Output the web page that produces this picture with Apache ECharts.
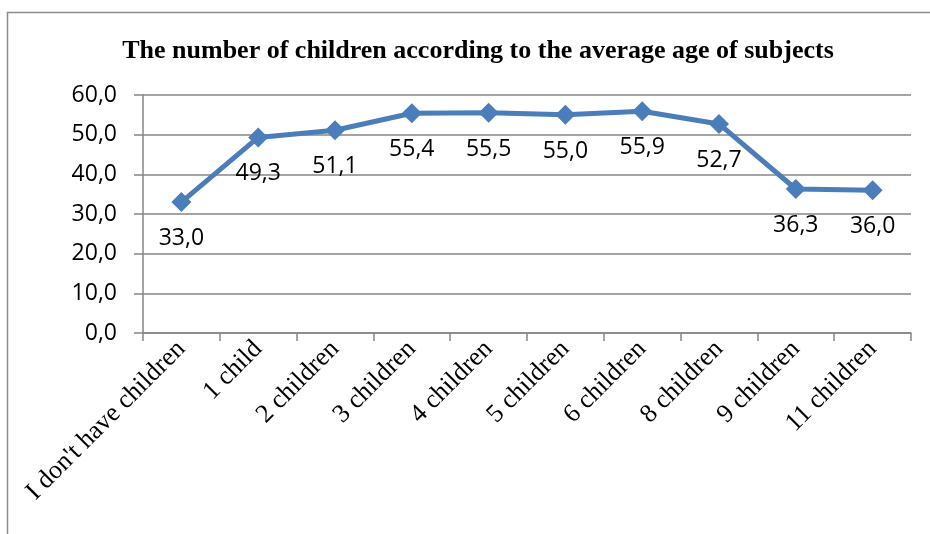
<!DOCTYPE html>
<html>
<head>
<meta charset="utf-8">
<style>
  html, body { margin: 0; padding: 0; background: #fff; }
  #chart { width: 930px; height: 534px; }
</style>
<script src="https://cdn.jsdelivr.net/npm/echarts@6/dist/echarts.min.js"></script>
</head>
<body>
<div id="chart"></div>
<script>
// Average age of subjects grouped by number of children
const categories = ["I don't have children", '1 child', '2 children', '3 children', '4 children',
  '5 children', '6 children', '8 children', '9 children', '11 children'];
const averageAge = [33.0, 49.3, 51.1, 55.4, 55.5, 55.0, 55.9, 52.7, 36.3, 36.0];
const yTicks = { min: 0, max: 60, interval: 10 };

const chart = echarts.init(document.getElementById('chart'), null, { renderer: 'canvas' });
const axisGray = '#868686';
const fmt = v => v.toFixed(1).replace('.', ',');

chart.setOption({
  animation: false,
  backgroundColor: '#fff',
  graphic: [{
    type: 'rect',
    shape: { x: 7.5, y: 12.5, width: 1000, height: 600 },
    style: { fill: 'none', stroke: '#8c8c8c', lineWidth: 1.5 },
    silent: true
  }],
  title: {
    text: 'The number of children according to the average age of subjects',
    left: 473, top: 33, textAlign: 'center',
    textStyle: { fontFamily: 'Liberation Serif', fontWeight: 'bold', fontSize: 26, color: '#000' }
  },
  grid: { left: 143, right: 19, top: 95, bottom: 201, containLabel: false },
  xAxis: {
    type: 'category',
    data: categories,
    boundaryGap: true,
    axisLine: { lineStyle: { color: axisGray, width: 1.5 } },
    axisTick: { show: true, length: 8, alignWithLabel: false, lineStyle: { color: axisGray, width: 1.5 } },
    axisLabel: {
      rotate: 45, interval: 0, margin: 12,
      fontFamily: 'Liberation Serif', fontSize: 26, color: '#000'
    }
  },
  yAxis: {
    type: 'value',
    min: yTicks.min, max: yTicks.max, interval: yTicks.interval,
    axisLine: { show: true, lineStyle: { color: axisGray, width: 1.5 } },
    axisTick: { show: true, length: 9, lineStyle: { color: axisGray, width: 1.5 } },
    splitLine: { lineStyle: { color: axisGray, width: 1.5 } },
    axisLabel: {
      margin: 26, formatter: v => fmt(v),
      fontFamily: 'Open Sans', fontSize: 23, color: '#000'
    }
  },
  series: [{
    type: 'line',
    data: averageAge,
    symbol: 'diamond',
    symbolSize: 20,
    lineStyle: { color: '#4a7ebb', width: 5 },
    itemStyle: { color: '#4a7ebb' },
    label: {
      show: true, position: 'bottom', distance: 15,
      formatter: p => fmt(p.value),
      fontFamily: 'Open Sans', fontSize: 23, color: '#000'
    }
  }]
});
</script>
</body>
</html>
